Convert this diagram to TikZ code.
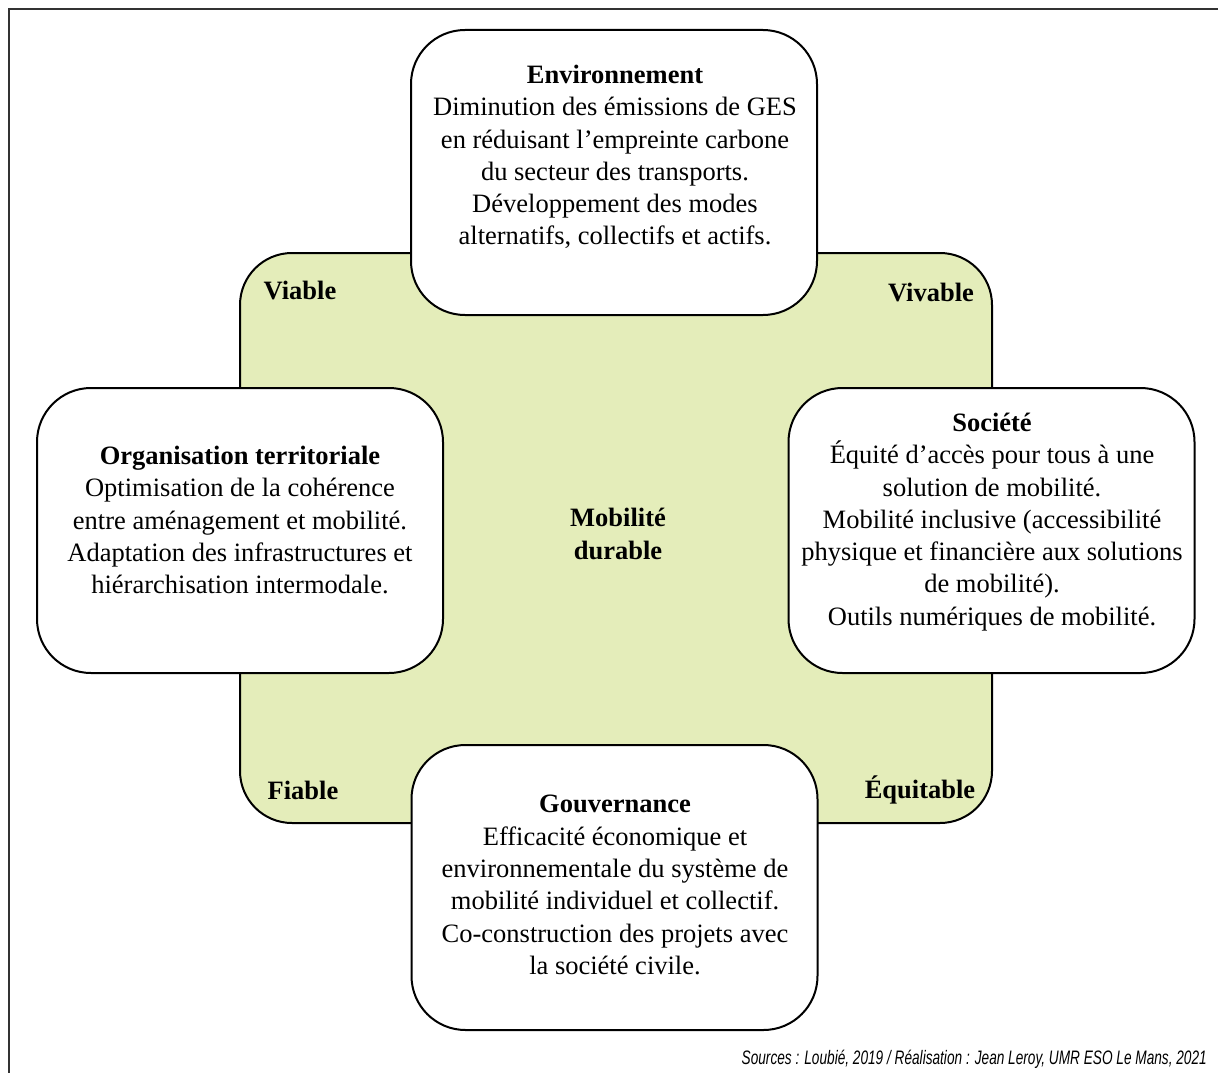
\documentclass[tikz,border=0pt]{standalone}
\usepackage{fontspec}
\setmainfont{Liberation Serif}
\newfontfamily\srcfont[FakeStretch=0.70]{Liberation Sans}
\definecolor{greenfill}{RGB}{228,237,186}
\definecolor{framegray}{RGB}{50,50,50}
\begin{document}
\begin{tikzpicture}[x=1pt,y=-1pt,
  boxstyle/.style={draw=black,line width=2pt,fill=white,rounded corners=54pt,inner sep=0pt,
    minimum width=406pt,minimum height=285pt},
  bodytext/.style={align=center,font=\fontsize{26.5}{32.3}\selectfont,inner sep=0pt},
  cornerlabel/.style={font=\fontsize{26.5}{32}\selectfont\bfseries,inner sep=0pt}]
\useasboundingbox (0,0) rectangle (1218,1073);
% outer frame (left and top edges)
\coordinate (fbl) at (9,1073);
\coordinate (ftl) at (9,9);
\coordinate (ftr) at (1218,9);
\draw[framegray,line width=2pt] (fbl) -- (ftl) -- (ftr);
% central green area
\node[draw=black,line width=2pt,fill=greenfill,rounded corners=52pt,inner sep=0pt,
  minimum width=752pt,minimum height=570pt] (core) at (616,538) {};
% four boxes
\node[boxstyle] (env) at (614,172.5) {};
\node[boxstyle] (org) at (240,530.5) {};
\node[boxstyle] (soc) at (991.5,530.5) {};
\node[boxstyle] (gov) at (614.5,887.5) {};
% texts
\node[bodytext] (envt) at (615,157) {\textbf{Environnement}\\Diminution des émissions de GES\\en réduisant l’empreinte carbone\\du secteur des transports.\\Développement des modes\\alternatifs, collectifs et actifs.};
\node[bodytext] (orgt) at (240,520) {\textbf{Organisation territoriale}\\Optimisation de la cohérence\\entre aménagement et mobilité.\\Adaptation des infrastructures et\\hiérarchisation intermodale.};
\node[bodytext] (soct) at (992,522) {\textbf{Société}\\Équité d’accès pour tous à une\\solution de mobilité.\\Mobilité inclusive (accessibilité\\physique et financière aux solutions\\de mobilité).\\Outils numériques de mobilité.};
\node[bodytext] (govt) at (615,885) {\textbf{Gouvernance}\\Efficacité économique et\\environnementale du système de\\mobilité individuel et collectif.\\Co-construction des projets avec\\la société civile.};
\node[bodytext,font=\fontsize{26.5}{32.3}\selectfont\bfseries] (mob) at (618,534) {Mobilité\\durable};
% corner labels
\node[cornerlabel] (viable) at (300,291) {Viable};
\node[cornerlabel] (vivable) at (931,293) {Vivable};
\node[cornerlabel] (fiable) at (303,790) {Fiable};
\node[cornerlabel] (equit) at (920,790) {Équitable};
% source line
\node[anchor=south east,inner sep=0pt,font=\srcfont\itshape\fontsize{19.5}{22}\selectfont] (src) at (1207,1069) {Sources : Loubié, 2019 / Réalisation : Jean Leroy, UMR ESO Le Mans, 2021};
\end{tikzpicture}
\end{document}
